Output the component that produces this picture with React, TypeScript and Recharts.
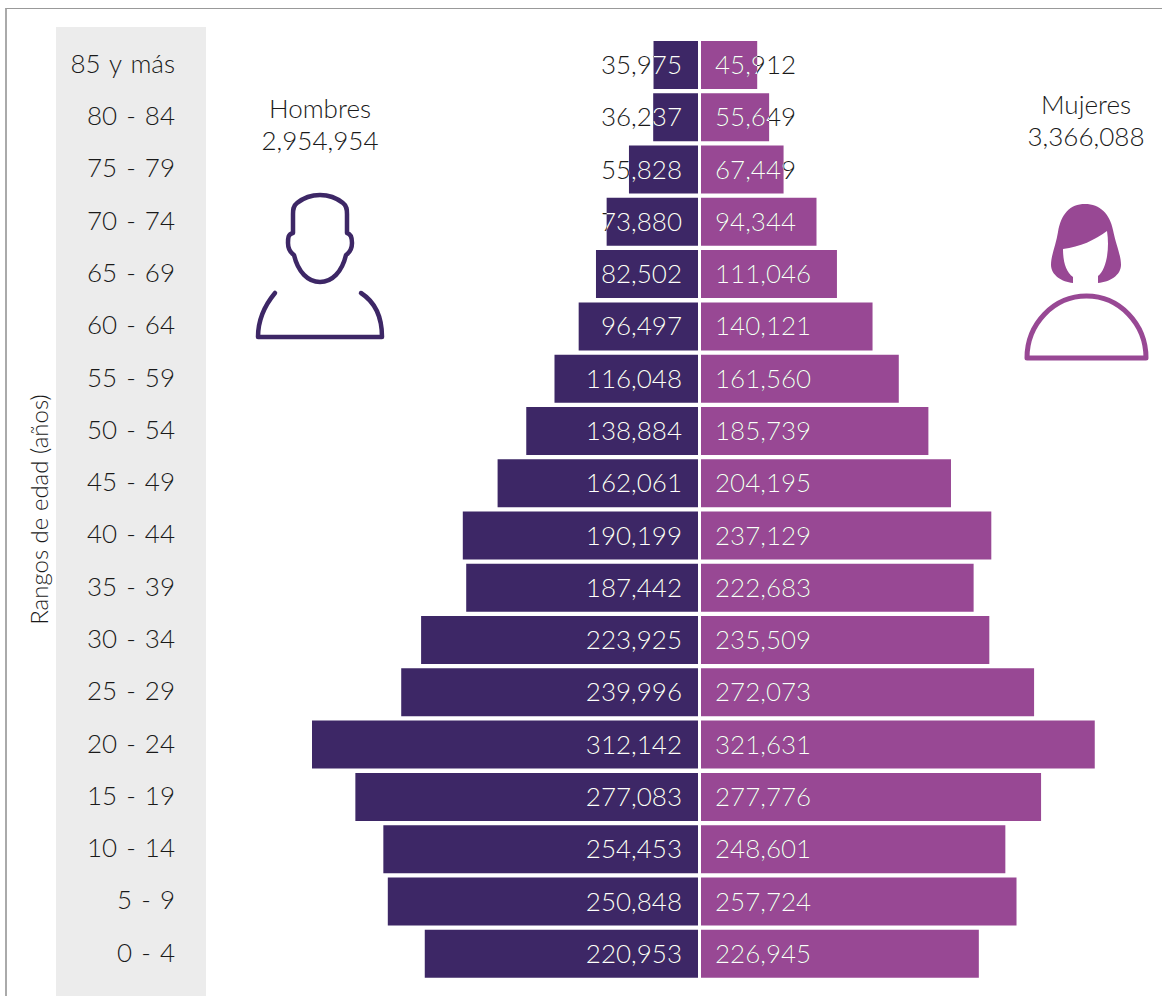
import { BarChart, Bar, XAxis, YAxis, LabelList } from "recharts";

const ageGroups = [
  "85 y más", "80 - 84", "75 - 79", "70 - 74", "65 - 69", "60 - 64",
  "55 - 59", "50 - 54", "45 - 49", "40 - 44", "35 - 39", "30 - 34",
  "25 - 29", "20 - 24", "15 - 19", "10 - 14", "5 - 9", "0 - 4",
];
const men = [
  35975, 36237, 55828, 73880, 82502, 96497, 116048, 138884, 162061,
  190199, 187442, 223925, 239996, 312142, 277083, 254453, 250848, 220953,
];
const women = [
  45912, 55649, 67449, 94344, 111046, 140121, 161560, 185739, 204195,
  237129, 222683, 235509, 272073, 321631, 277776, 248601, 257724, 226945,
];
const menTotal = "2,954,954";
const womenTotal = "3,366,088";

const menData = ageGroups.map((age, i) => ({ age, value: men[i] }));
const womenData = ageGroups.map((age, i) => ({ age, value: women[i] }));

const FONT = "Lato, sans-serif";
const PURPLE_DARK = "#3d2766";
const PURPLE = "#984894";
const TEXT = "#1a1a1a";
const MARGIN_TOP = 39;
const MARGIN_BOTTOM = 16;

// black text with a white copy clipped to the bar
function SplitLabel({ x, y, width, height, value, index, side }: any) {
  const left = Math.min(x, x + width);
  const w = Math.abs(width);
  const isMen = side === "men";
  const tx = isMen ? left + w - 16 : left + 14;
  const id = `clip-${side}-${index}`;
  const common = {
    x: tx,
    y: y + height / 2,
    dy: "0.35em",
    textAnchor: isMen ? ("end" as const) : ("start" as const),
    fontFamily: FONT,
    fontSize: 26,
    fontWeight: 300,
  };
  const text = Number(value).toLocaleString("en-US");
  return (
    <g>
      <clipPath id={id}>
        <rect x={left} y={y} width={w} height={height} />
      </clipPath>
      <text {...common} fill={TEXT}>{text}</text>
      <text {...common} fill="#fff" clipPath={`url(#${id})`}>{text}</text>
    </g>
  );
}

function AgeTick({ x, y, payload }: any) {
  return (
    <text
      x={x}
      y={y}
      dy="0.3em"
      textAnchor="end"
      fontFamily={FONT}
      fontSize={26}
      fontWeight={300}
      fill={TEXT}
      style={{ wordSpacing: 2 }}
    >
      {payload.value}
    </text>
  );
}

function Caption({ center, top, title, total }: any) {
  return (
    <div
      style={{
        position: "absolute",
        left: center - 90,
        top,
        width: 180,
        textAlign: "center",
        fontFamily: FONT,
        fontWeight: 300,
        fontSize: 26,
        lineHeight: "32px",
        color: TEXT,
      }}
    >
      {title}
      <br />
      {total}
    </div>
  );
}

export default function App() {
  return (
    <div style={{ position: "absolute", left: 0, top: 0, width: 1162, height: 996, overflow: "hidden", background: "#fff" }}>
      <div style={{ position: "absolute", left: 5, top: 8, width: 1157, height: 988, borderTop: "1px solid #999", borderLeft: "2px solid #aaa" }} />
      <div style={{ position: "absolute", left: 56, top: 27, width: 150, height: 969, background: "#ececec" }} />

      <div style={{ position: "absolute", left: 0, top: 0 }}>
        <BarChart
          width={698}
          height={996}
          layout="vertical"
          data={menData}
          margin={{ top: MARGIN_TOP, right: 0, bottom: MARGIN_BOTTOM, left: 0 }}
        >
          <XAxis type="number" hide reversed domain={[0, 397865]} />
          <YAxis
            type="category"
            dataKey="age"
            width={206}
            axisLine={false}
            tickLine={false}
            tickMargin={25}
            interval={0}
            tick={<AgeTick />}
            label={{
              value: "Rangos de edad (años)",
              angle: -90,
              position: "center",
              dx: -64,
              style: { fontFamily: FONT, fontSize: 24, fontWeight: 300, fill: TEXT },
            }}
          />
          <Bar dataKey="value" fill={PURPLE_DARK} barSize={48} isAnimationActive={false}>
            <LabelList dataKey="value" content={(p: any) => <SplitLabel {...p} side="men" />} />
          </Bar>
        </BarChart>
      </div>

      <div style={{ position: "absolute", left: 701, top: 0 }}>
        <BarChart
          width={404}
          height={996}
          layout="vertical"
          data={womenData}
          margin={{ top: MARGIN_TOP, right: 0, bottom: MARGIN_BOTTOM, left: 0 }}
        >
          <XAxis type="number" hide domain={[0, 330000]} />
          <YAxis type="category" dataKey="age" hide />
          <Bar dataKey="value" fill={PURPLE} barSize={48} isAnimationActive={false}>
            <LabelList dataKey="value" content={(p: any) => <SplitLabel {...p} side="women" />} />
          </Bar>
        </BarChart>
      </div>

      <Caption center={320} top={92} title="Hombres" total={menTotal} />
      <Caption center={1086} top={88} title="Mujeres" total={womenTotal} />

      <svg width={1162} height={996} style={{ position: "absolute", left: 0, top: 0, pointerEvents: "none" }}>
        <g fill="none" stroke={PURPLE_DARK} strokeWidth={4.5} strokeLinejoin="round" strokeLinecap="round">
          <path d="M320 195 C308 195 302 199 297 203 C293 206 293 210 293 214 L293 233 C288 234 288 238 288 243 C288 250 291 253 294 255 C298 272 308 282 320 282 C332 282 342 272 346 255 C349 253 352 250 352 243 C352 238 351 234 347 233 L347 214 C347 210 347 206 343 203 C338 199 332 195 320 195 Z" />
          <path d="M275 293 C265 305 258 320 258 337 L382 337 C382 318 375 302 361 293" />
        </g>
        <path
          fill={PURPLE}
          d="M1085 204 C1100 204 1110 214 1113 230 C1116 245 1121 255 1121 265 C1121 275 1110 282 1098 283 L1098 276 C1106 270 1110 250 1107 231 C1095 240 1080 247 1063 249 C1063 262 1066 272 1073 277 L1073 283 C1062 282 1051 275 1051 265 C1051 255 1056 245 1058 232 C1061 214 1070 204 1085 204 Z"
        />
        <path
          d="M1027 358 A59.5 62 0 0 1 1146 358 Z"
          fill="none"
          stroke={PURPLE}
          strokeWidth={5}
          strokeLinejoin="round"
        />
      </svg>
    </div>
  );
}
